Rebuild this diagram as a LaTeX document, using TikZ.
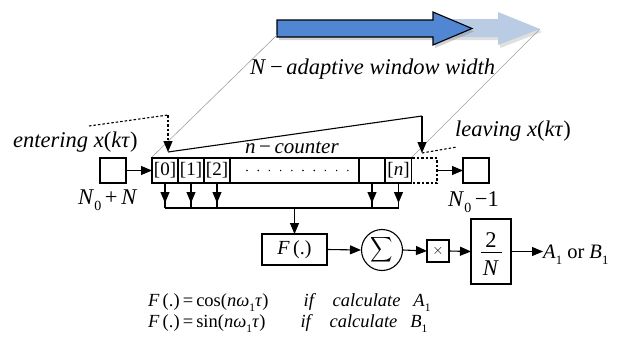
\documentclass[tikz,border=0pt]{standalone}
\usepackage{fontspec}
\usepackage{graphicx}
\setmainfont{Liberation Serif}
\usetikzlibrary{arrows.meta,calc,shadows}
\definecolor{blueA}{RGB}{80,134,210}
\definecolor{blueL}{RGB}{186,204,228}
\newcommand\mysub[1]{\raisebox{-0.3em}[\height][0pt]{\scalebox{0.62}{#1}}}
\begin{document}
\begin{tikzpicture}[x=1pt,y=-1pt,
  box/.style={draw, line width=1.1pt, inner sep=0pt, outer sep=0pt},
  cell/.style={box, minimum width=26pt, minimum height=25pt, font=\fontsize{19}{19}\selectfont},
  arr/.style={line width=1.1pt, -{Triangle[length=11pt,width=9pt]}},
  ln/.style={line width=1.1pt},
  dsh/.style={line width=1.1pt, dash pattern=on 2.5pt off 2pt},
  gline/.style={draw=gray!75, line width=0.6pt},
  lbl/.style={inner sep=0pt, font=\fontsize{22.5}{22.5}\selectfont},
  sml/.style={inner sep=0pt, font=\fontsize{18.5}{18.5}\selectfont},
]
\useasboundingbox (0,0) rectangle (619,340);

% top arrows
\fill[blueL, drop shadow={opacity=0.25, shadow xshift=2pt, shadow yshift=-3pt}]
  (440,19) -- (498,19) -- (498,12) -- (540,29) -- (498,45) -- (498,37) -- (440,37) -- cycle;
\filldraw[fill=blueA, draw=black, line width=1.1pt, drop shadow={opacity=0.35, shadow xshift=2pt, shadow yshift=-3pt}]
  (277,20) -- (433,20) -- (433,12) -- (472,28.5) -- (433,45) -- (433,37) -- (277,37) -- cycle;

% parallelogram guide lines
\coordinate (gl1) at (277,35);
\coordinate (gl2) at (152,157);
\coordinate (gr1) at (540,29);
\coordinate (gr2) at (412,157);
\draw[gline] (gl1) -- (gl2);
\draw[gline] (gr1) -- (gr2);

\node[lbl, anchor=base west] (title) at (250,74) {\textit{N}\,−\,\textit{adaptive window width}};

% input / output boxes
\node[box, minimum width=26pt, minimum height=25pt] (in) at (113,170.5) {};
\node[box, minimum width=26pt, minimum height=25pt] (out) at (476,170.5) {};

% register
\node[cell] (c0) at (165,170.5) {[0]};
\node[cell] (c1) at (191,170.5) {[1]};
\node[cell] (c2) at (217,170.5) {[2]};
\node[cell, minimum width=129pt] (cd) at (294.5,170.5) {};
\node[cell] (c4) at (372,170.5) {};
\node[cell] (cn) at (398.5,170.5) {[\textit{n}]};
\node[inner sep=0pt, outer sep=0pt, minimum width=25pt, minimum height=25pt] (cx) at (424.5,170.5) {};
\draw[dsh] (cx.north west) -- (cx.north east) -- (cx.south east) -- (cx.south west);
\foreach \i in {0,...,9} { \fill ($(cd.west)+(17+11.2*\i,0)$) circle (0.8pt); }

\draw[arr] (in.east) -- (c0.west);
\draw[arr] (cx.east) -- (out.west);

\node[lbl, anchor=base west] (ent) at (13,147) {\textit{entering x}(\textit{kτ})};
\node[lbl, anchor=base west] (lea) at (455,136) {\textit{leaving x}(\textit{kτ})};
\node[lbl, anchor=base west] (n0n) at (78,204) {\textit{N}\mysub{0}\,+\,\textit{N}};
\node[lbl, anchor=base west] (n01) at (448,206) {\textit{N}\mysub{0}\,−1};
\node[lbl, anchor=base west, font=\fontsize{21}{21}\selectfont] (cnt) at (245,153) {\textit{n}\,−\,\textit{counter}};

% counter triangle
\coordinate (dA) at (89,126);
\coordinate (dB) at (168,115);
\coordinate (tip) at (168,152);
\coordinate (top) at (422,116);
\coordinate (tipR) at (422,153);
\coordinate (dR) at (457,147);
\draw[dsh] (dA) -- (dB);
\draw[dsh, -{Triangle[length=11pt,width=9pt]}] (dB) -- (tip);
\draw[ln] (tip) -- (top);
\draw[arr] (top) -- (tipR);
\draw[dsh] (tipR) -- (dR);

% bus
\coordinate (busL) at (165,208);
\coordinate (busR) at (398.5,208);
\draw[ln] (busL) -- (busR);
\foreach \c in {c0,c1,c2,c4,cn} {
  \draw[ln] (\c.south) -- (\c.south |- busL);
  \draw[arr] (\c.south) -- ($(\c.south |- busL)+(0,-5)$);
}

% processing chain
\node[box, minimum width=65pt, minimum height=31pt, font=\fontsize{20}{20}\selectfont] (F) at (294.5,249.5) {\textit{F}\,(.)};
\node[draw, circle, line width=1.1pt, minimum size=41pt, inner sep=0pt] (S) at (382,250) {\scalebox{1.55}[1.75]{$\displaystyle\sum$}};
\node[box, minimum size=22pt, font=\fontsize{15}{15}\selectfont] (M) at (438,251) {$\times$};
\node[box, minimum width=40pt, minimum height=65pt] (D) at (491,251.5) {};
\node[lbl] (two) at (491,240) {2};
\node[lbl] (nn) at (491,268) {\textit{N}};
\draw[line width=0.8pt] ($(D.center)+(-10.5,0.5)$) -- ($(D.center)+(10.5,0.5)$);
\node[sml, anchor=base west, font=\fontsize{20.5}{20.5}\selectfont] (res) at (543,258) {\textit{A}\mysub{1} or \textit{B}\mysub{1}};

\draw[arr] (F.north |- busL) -- (F.north);
\draw[arr] (F.east) -- (S.west);
\draw[arr] (S.east) -- (M.west);
\draw[arr] (M.east) -- (D.west);
\draw[arr] (D.east) -- (D.east -| res.west);

% formulas
\node[sml, anchor=base west] (f1) at (148,306) {\textit{F}\,(.)\,=\,cos(\textit{nω}\mysub{1}\textit{τ})\hspace{1.9em}\textit{if}\hspace{0.9em}\textit{calculate}\hspace{0.7em}\textit{A}\mysub{1}};
\node[sml, anchor=base west] (f2) at (148,327) {\textit{F}\,(.)\,=\,sin(\textit{nω}\mysub{1}\textit{τ})\hspace{1.9em}\textit{if}\hspace{0.9em}\textit{calculate}\hspace{0.7em}\textit{B}\mysub{1}};
\end{tikzpicture}
\end{document}
